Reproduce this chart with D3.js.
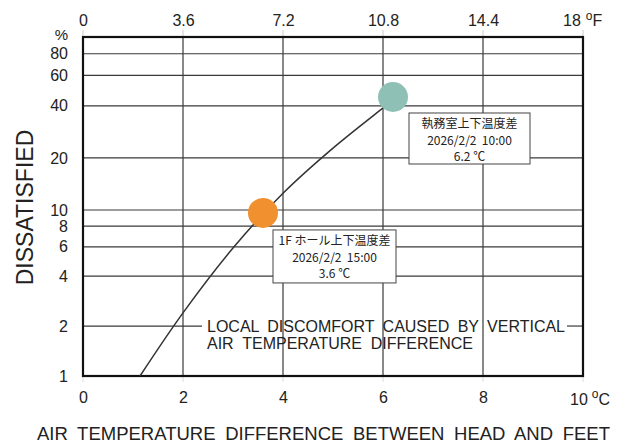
<!DOCTYPE html>
<html>
<head>
<meta charset="utf-8">
<script src="https://cdn.jsdelivr.net/npm/d3@7"></script>
<style>
    body { margin: 0; background: #fff; }
    svg text { font-family: "Liberation Sans", Arial, sans-serif; fill: #222; }
    .note text { font-family: "Noto Sans CJK JP", sans-serif; font-size: 12px; white-space: pre; }
</style>
</head>
<body>
<svg id="chart" width="625" height="443"></svg>
<script>
// curve: [deg C, % dissatisfied]
const curveTemps = [1.14, 2.0, 3.0, 4.0, 5.0, 6.0, 6.2];
const curvePct = [1.0, 2.4, 5.9, 12.5, 22.8, 38.9, 43.2];

const celsiusTicks = [0, 2, 4, 6, 8, 10];
const fahrenheitTicks = [0, 3.6, 7.2, 10.8, 14.4, 18];
const pctTicks = [1, 2, 4, 6, 8, 10, 20, 40, 60, 80];

const pointNames = ["1F ホール上下温度差", "執務室上下温度差"];
const pointTimes = ["2026/2/2  15:00", "2026/2/2  10:00"];
const pointTemps = [3.6, 6.2];
const pointPct = [9.6, 45];
const pointColors = ["#f0902f", "#8fc0b6"];

const svg = d3.select("#chart");

const plot = {"left": 83, "right": 583, "top": 37, "bottom": 376};

const x = d3.scaleLinear().domain([0, 10]).range([plot.left, plot.right]);
const xF = d3.scaleLinear().domain([0, 18]).range([plot.left, plot.right]);
// the printed log axis has slightly different decade heights
const y = d3.scaleLog().domain([1, 10, 100]).range([plot.bottom, 210, plot.top]);

// stretch the gaps between words so a line fills a given width
function spreadWords(text, width) {
    const len = text.node().getComputedTextLength();
    const gaps = text.text().split(" ").length - 1;
    text.attr("word-spacing", (width - len) / gaps);
}

// small faint ticks outside the frame
svg.append("g").selectAll("line")
    .data(celsiusTicks)
    .enter().append("line")
    .attr("x1", d => x(d)).attr("x2", d => x(d))
    .attr("y1", plot.top - 7).attr("y2", plot.top)
    .attr("stroke", "#ccc").attr("stroke-width", 1);

svg.append("g").selectAll("line")
    .data(celsiusTicks)
    .enter().append("line")
    .attr("x1", d => x(d)).attr("x2", d => x(d))
    .attr("y1", plot.bottom).attr("y2", plot.bottom + 6)
    .attr("stroke", "#ddd").attr("stroke-width", 1);

// grid
const grid = svg.append("g").attr("stroke", "#3a3a3a").attr("stroke-width", 1.2);

grid.selectAll(".vgrid")
    .data(celsiusTicks.slice(1, -1))
    .enter().append("line")
    .attr("x1", d => x(d)).attr("x2", d => x(d))
    .attr("y1", plot.top).attr("y2", plot.bottom);

grid.selectAll(".hgrid")
    .data(pctTicks.filter(d => d !== 1 && d !== 2))
    .enter().append("line")
    .attr("x1", plot.left).attr("x2", plot.right)
    .attr("y1", d => y(d)).attr("y2", d => y(d));

// the 2% line is broken by the caption
grid.append("line")
    .attr("x1", plot.left).attr("x2", 202)
    .attr("y1", y(2)).attr("y2", y(2));
grid.append("line")
    .attr("x1", 567).attr("x2", plot.right)
    .attr("y1", y(2)).attr("y2", y(2));

// caption
svg.append("text")
    .attr("x", 207).attr("y", y(2) + 6)
    .attr("font-size", 16)
    .text("LOCAL DISCOMFORT CAUSED BY VERTICAL")
    .call(spreadWords, 358);
svg.append("text")
    .attr("x", 207).attr("y", y(2) + 23)
    .attr("font-size", 16)
    .text("AIR TEMPERATURE DIFFERENCE")
    .call(spreadWords, 266);

// frame
svg.append("rect")
    .attr("x", plot.left).attr("y", plot.top)
    .attr("width", plot.right - plot.left).attr("height", plot.bottom - plot.top)
    .attr("fill", "none").attr("stroke", "#111").attr("stroke-width", 2.2);

// curve
const line = d3.line()
    .x(d => x(d[0]))
    .y(d => y(d[1]))
    .curve(d3.curveCatmullRom);

svg.append("path")
    .datum(curveTemps.map((t, i) => [t, curvePct[i]]))
    .attr("d", line)
    .attr("fill", "none")
    .attr("stroke", "#333")
    .attr("stroke-width", 1.5);

// axes (labels only)
const bottomAxis = svg.append("g")
    .attr("transform", `translate(0,${plot.bottom})`)
    .call(d3.axisBottom(x).tickValues(celsiusTicks.slice(0, -1)).tickSize(0).tickPadding(16).tickFormat(d3.format("d")));

const topAxis = svg.append("g")
    .attr("transform", `translate(0,${plot.top})`)
    .call(d3.axisTop(xF).tickValues(fahrenheitTicks.slice(0, -1)).tickSize(0).tickPadding(11).tickFormat(d => d));

const leftAxis = svg.append("g")
    .attr("transform", `translate(${plot.left},0)`)
    .call(d3.axisLeft(y).tickValues(pctTicks).tickSize(0).tickPadding(15).tickFormat(d => d));

[bottomAxis, topAxis, leftAxis].forEach(a => {
    a.select(".domain").remove();
    a.selectAll("text")
        .attr("font-family", "Liberation Sans, Arial, sans-serif")
        .attr("font-size", 16)
        .attr("fill", "#222");
});

// end labels with units
svg.append("text")
    .attr("x", x(10) - 13).attr("y", 405)
    .attr("font-size", 16).attr("text-anchor", "start")
    .text("10")
    .append("tspan").attr("dx", 4).attr("dy", -7).attr("font-size", 12).text("o")
    .select(function () { return this.parentNode; })
    .append("tspan").attr("dy", 7).attr("font-size", 16).text("C");

svg.append("text")
    .attr("x", xF(18) - 20).attr("y", 26)
    .attr("font-size", 16).attr("text-anchor", "start")
    .text("18")
    .append("tspan").attr("dx", 5).attr("dy", -6).attr("font-size", 12).text("o")
    .select(function () { return this.parentNode; })
    .append("tspan").attr("dy", 6).attr("font-size", 16).text("F");

svg.append("text")
    .attr("x", 68).attr("y", 40)
    .attr("font-size", 15).attr("text-anchor", "end")
    .text("%");

// titles
svg.append("text")
    .attr("transform", `translate(33,${(plot.top + plot.bottom) / 2 + 1}) rotate(-90)`)
    .attr("text-anchor", "middle")
    .attr("font-size", 23)
    .text("DISSATISFIED");

svg.append("text")
    .attr("x", 37).attr("y", 440)
    .attr("font-size", 18.5)
    .text("AIR TEMPERATURE DIFFERENCE BETWEEN HEAD AND FEET")
    .call(spreadWords, 573);

// measured points
svg.append("g").selectAll("circle")
    .data(pointTemps)
    .enter().append("circle")
    .attr("cx", d => x(d))
    .attr("cy", (d, i) => y(pointPct[i]))
    .attr("r", 15)
    .attr("fill", (d, i) => pointColors[i]);

// note boxes
const boxOffset = [[10, 17], [16, 16]];
const boxSize = [[123, 53], [121, 51]];

const notes = svg.append("g").attr("class", "note").selectAll("g")
    .data(pointTemps)
    .enter().append("g")
    .attr("transform", (d, i) => `translate(${x(d) + boxOffset[i][0]},${y(pointPct[i]) + boxOffset[i][1]})`);

notes.append("rect")
    .attr("width", (d, i) => boxSize[i][0])
    .attr("height", (d, i) => boxSize[i][1])
    .attr("fill", "#fff")
    .attr("stroke", "#444")
    .attr("stroke-width", 1);

notes.append("text")
    .attr("x", (d, i) => boxSize[i][0] / 2).attr("y", 15)
    .attr("text-anchor", "middle")
    .text((d, i) => pointNames[i]);
notes.append("text")
    .attr("x", (d, i) => boxSize[i][0] / 2).attr("y", 32)
    .attr("text-anchor", "middle")
    .text((d, i) => pointTimes[i]);
notes.append("text")
    .attr("x", (d, i) => boxSize[i][0] / 2).attr("y", 48)
    .attr("text-anchor", "middle")
    .text(d => d + " ℃");
</script>
</body>
</html>
